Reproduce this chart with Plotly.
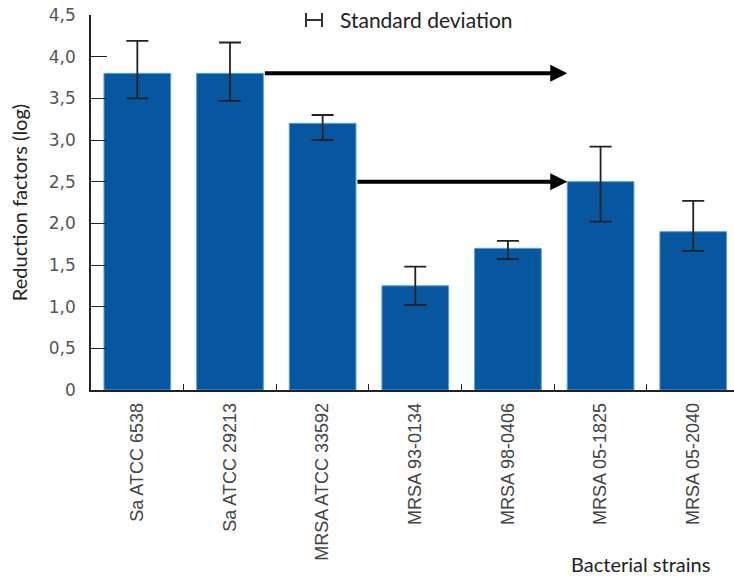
import plotly.graph_objects as go

categories = ["Sa ATCC 6538", "Sa ATCC 29213", "MRSA ATCC 33592", "MRSA 93-0134",
              "MRSA 98-0406", "MRSA 05-1825", "MRSA 05-2040"]
values = [3.8, 3.8, 3.2, 1.25, 1.7, 2.5, 1.9]
err_plus = [0.39, 0.37, 0.10, 0.23, 0.09, 0.42, 0.37]
err_minus = [0.30, 0.33, 0.20, 0.23, 0.13, 0.48, 0.23]
ytick_vals = [0, 0.5, 1.0, 1.5, 2.0, 2.5, 3.0, 3.5, 4.0, 4.5]
ytick_text = ["0", "0,5", "1,0", "1,5", "2,0", "2,5", "3,0", "3,5", "4,0", "4,5"]
arrows = [(1, 5, 3.8), (2, 5, 2.5)]  # from bar index, to bar index, level

BAR_W = 0.72
W, H = 734, 576
L, R, T, B = 91, 0, 15, 186

fig = go.Figure()
fig.add_trace(go.Bar(
    x=categories, y=values, width=BAR_W,
    marker=dict(color="#0756a0", line=dict(color="#5aa0dc", width=1)),
    error_y=dict(type="data", symmetric=False, array=err_plus, arrayminus=err_minus,
                 color="#222222", thickness=1.8, width=11),
    showlegend=False, hoverinfo="skip",
))

for i0, i1, lvl in arrows:
    fig.add_annotation(x=i1 - BAR_W / 2, y=lvl, ax=i0 + BAR_W / 2, ay=lvl,
                       xref="x", yref="y", axref="x", ayref="y", text="",
                       showarrow=True, arrowhead=2, arrowsize=0.85, arrowwidth=4,
                       arrowcolor="#000000", standoff=0, startstandoff=0)

pw = W - L - R
ph = H - T - B
def px(xp):
    return (xp - L) / pw
def py(yp):
    return (H - B - yp) / ph

# legend symbol for standard deviation
lc = dict(color="#333333", width=2)
fig.add_shape(type="line", xref="paper", yref="paper", x0=px(306), x1=px(322), y0=py(20), y1=py(20), line=lc)
fig.add_shape(type="line", xref="paper", yref="paper", x0=px(306), x1=px(306), y0=py(13), y1=py(27), line=lc)
fig.add_shape(type="line", xref="paper", yref="paper", x0=px(322), x1=px(322), y0=py(13), y1=py(27), line=lc)
fig.add_annotation(x=px(338), y=py(20), xref="paper", yref="paper", text="Standard deviation",
                   showarrow=False, xanchor="left", yanchor="middle",
                   font=dict(family="Lato", size=21, color="#222222"))
fig.add_annotation(x=px(712), y=py(564), xref="paper", yref="paper", text="Bacterial strains",
                   showarrow=False, xanchor="right", yanchor="middle",
                   font=dict(family="Lato", size=20, color="#222222"))

fig.update_layout(
    width=W, height=H,
    margin=dict(l=L, r=R, t=T, b=B, pad=0),
    plot_bgcolor="white", paper_bgcolor="white",
    bargap=0.28,
)
fig.update_xaxes(
    range=[-0.5, 6.44], showline=True, linecolor="#222222", linewidth=1.5,
    ticks="inside", tickson="boundaries", ticklen=6, tickcolor="#222222",
    tickangle=-90, tickfont=dict(family="Liberation Sans", size=18, color="#444444"),
    ticklabelstandoff=4, showgrid=False, zeroline=False,
)
fig.update_yaxes(
    range=[0, 4.5], showline=True, linecolor="#222222", linewidth=1.5,
    ticks="inside", ticklen=16, tickcolor="#222222",
    tickvals=ytick_vals, ticktext=ytick_text,
    tickfont=dict(family="DejaVu Sans", size=17, color="#555555"),
    ticklabelstandoff=10, showgrid=False, zeroline=False,
    title=dict(text="Reduction factors (log)", font=dict(family="Lato", size=20, color="#222222"), standoff=16),
)

fig.write_html("out.html", config={"displayModeBar": False},
               post_script="document.body.style.margin='0';document.body.style.overflow='hidden';")
